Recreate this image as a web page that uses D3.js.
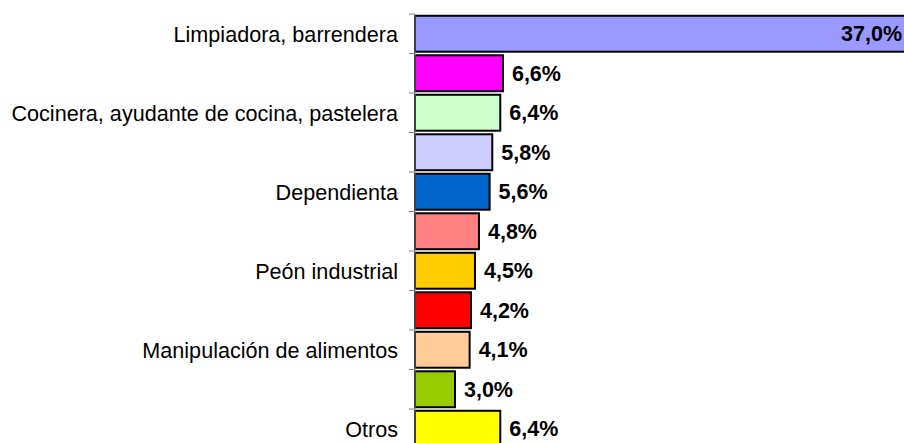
<html>
<head>
<script src="https://d3js.org/d3.v7.min.js"></script>
<style>
  body { margin: 0; background: white; }
  svg { display: block; font-family: "Liberation Sans", Arial, sans-serif; }
</style>
</head>
<body>
<svg id="chart" width="904" height="443"></svg>
<script>
// categories (only every other one has a visible label in the original)
const categories = ["Limpiadora, barrendera", "", "Cocinera, ayudante de cocina, pastelera", " ",
                    "Dependienta", "  ", "Peón industrial", "   ", "Manipulación de alimentos", "    ", "Otros"];
const values = [37.0, 6.6, 6.4, 5.8, 5.6, 4.8, 4.5, 4.2, 4.1, 3.0, 6.4];
const colors = ["#9999FF", "#FF00FF", "#CCFFCC", "#CCCCFF", "#0066CC", "#FF8080",
                "#FFCC00", "#FF0000", "#FFCC99", "#99CC00", "#FFFF00"];

const data = categories.map((c, i) => ({ cat: c, value: values[i], color: colors[i] }));

const svg = d3.select("svg#chart");

const y = d3.scaleBand()
  .domain(categories)
  .range([14, 14 + 11 * 39.5])
  .paddingInner(0.09)
  .paddingOuter(0.045);

const x = d3.scaleLinear()
  .domain([0, 37])
  .range([415, 908]);

// bars
svg.selectAll("rect.bar").data(data)
  .join("rect")
  .attr("class", "bar")
  .attr("x", x(0))
  .attr("y", d => y(d.cat))
  .attr("width", d => x(d.value) - x(0))
  .attr("height", y.bandwidth())
  .attr("fill", d => d.color)
  .attr("stroke", "#000")
  .attr("stroke-width", 2);

// axis with ticks on band boundaries
svg.append("line")
  .attr("x1", x(0)).attr("x2", x(0))
  .attr("y1", 14).attr("y2", 443)
  .attr("stroke", "#808080");

const boundaries = d3.range(0, 12).map(i => 14 + i * y.step());
svg.selectAll("line.tick").data(boundaries)
  .join("line")
  .attr("class", "tick")
  .attr("x1", x(0) - 6).attr("x2", x(0))
  .attr("y1", d => d).attr("y2", d => d)
  .attr("stroke", "#808080");

// category labels
svg.selectAll("text.cat").data(data.filter(d => d.cat.trim() !== ""))
  .join("text")
  .attr("class", "cat")
  .attr("x", 398)
  .attr("y", d => y(d.cat) + y.bandwidth() / 2)
  .attr("dy", "0.36em")
  .attr("text-anchor", "end")
  .attr("font-size", "21.6px")
  .attr("fill", "#000")
  .text(d => d.cat);

// value labels
const fmt = v => v.toFixed(1).replace(".", ",") + "%";
svg.selectAll("text.val").data(data)
  .join("text")
  .attr("class", "val")
  .attr("x", d => d.value > 30 ? 902 : x(d.value) + 9)
  .attr("y", d => y(d.cat) + y.bandwidth() / 2)
  .attr("dy", "0.36em")
  .attr("text-anchor", d => d.value > 30 ? "end" : "start")
  .attr("font-size", "21.5px")
  .attr("font-weight", "bold")
  .attr("fill", "#000")
  .text(d => fmt(d.value));
</script>
</body>
</html>
